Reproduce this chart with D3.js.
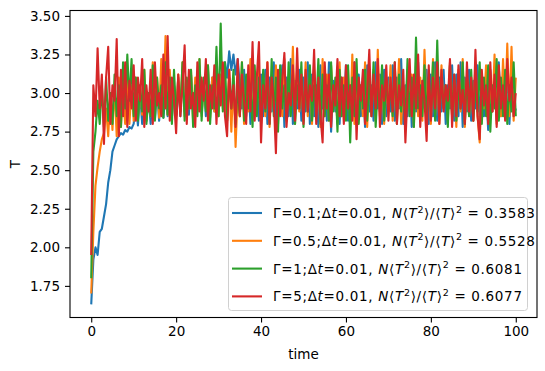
<!DOCTYPE html>
<html lang="en">
<head>
<meta charset="UTF-8">
<script src="https://d3js.org/d3.v7.min.js"></script>
<style>
  body { margin: 0; background: #fff; }
  svg { display: block; font-family: "DejaVu Sans", sans-serif; }
</style>
</head>
<body>
<div id="chart"></div>
<script>
// sampling step of the time axis (time units)
const timeStep = 0.5;

const gammas = ["0.1", "0.5", "1", "5"];
const ratios = ["0.3583", "0.5528", "0.6081", "0.6077"];
const colors = ["#1f77b4", "#ff7f0e", "#2ca02c", "#d62728"];

const xTicks = [0, 20, 40, 60, 80, 100];
const yTicks = [1.75, 2.00, 2.25, 2.50, 2.75, 3.00, 3.25, 3.50];

const tempG01 = [
  1.63, 1.92, 2.0, 1.95, 2.1, 2.12, 2.2, 2.28, 2.42, 2.5, 2.62, 2.66, 2.7, 2.72, 2.74, 2.73, 2.76, 2.75, 2.78, 2.77, 2.8,
  2.95, 2.79, 3.0, 2.8, 3.05, 2.82, 2.98, 2.8, 3.08, 2.83, 3.02, 2.82, 3.1, 2.84, 3.0, 2.85, 3.12, 2.84, 3.05, 2.86,
  3.1, 2.85, 3.15, 2.88, 3.05, 2.86, 3.12, 2.9, 3.02, 2.88, 3.18, 2.87, 3.08, 2.85, 3.15, 2.9, 3.1, 2.88, 3.2, 2.92,
  3.05, 2.95, 3.2, 3.1, 3.27, 3.15, 3.25, 3.12, 3.22, 3.05, 2.9, 3.15, 2.85, 3.1, 2.8, 3.18, 2.88, 3.05, 2.82, 3.12,
  2.85, 3.15, 2.8, 3.1, 2.88, 3.2, 2.82, 3.05, 2.9, 3.18, 2.78, 3.1, 2.85, 3.22, 2.8, 3.08, 2.9, 3.15, 2.82, 3.1,
  2.88, 3.2, 2.8, 3.12, 2.85, 3.05, 2.78, 3.18, 2.9, 3.1, 2.82, 3.2, 2.75, 3.08, 2.88, 3.15, 2.8, 3.1, 2.85, 3.18,
  2.82, 3.05, 2.9, 3.2, 2.8, 3.12, 2.85, 3.1, 2.78, 3.18, 2.88, 3.05, 2.82, 3.2, 2.9, 3.12, 2.8, 3.15, 2.85, 3.1,
  2.88, 3.18, 2.82, 3.1, 2.9, 3.22, 2.8, 3.05, 2.85, 3.15, 2.78, 3.1, 2.88, 3.2, 2.82, 3.08, 2.9, 3.15, 2.8, 3.12,
  2.85, 3.2, 2.82, 3.1, 2.88, 3.15, 2.8, 3.05, 2.9, 3.18, 2.82, 3.12, 2.85, 3.2, 2.78, 3.1, 2.88, 3.15, 2.82, 3.08,
  2.9, 3.18, 2.8, 3.12, 2.85, 3.05, 2.76, 3.15, 2.88, 3.1, 2.82, 3.2, 2.85, 3.08, 2.9, 3.15, 2.8, 3.1, 2.85, 2.9
];

const tempG05 = [
  1.70, 2.1, 2.4, 2.52, 2.62, 2.7, 2.74, 2.9, 2.72, 3.0, 2.76, 3.05, 2.72, 3.1, 2.78, 3.0, 2.8, 3.15, 2.8, 3.05, 2.82,
  3.1, 2.84, 3.05, 2.86, 3.15, 2.82, 3.0, 2.85, 3.2, 2.88, 3.1, 2.84, 3.22, 2.9, 3.37, 2.86, 3.15, 2.9, 3.05, 2.85,
  3.12, 2.88, 3.2, 2.85, 3.05, 2.9, 3.15, 2.82, 3.1, 2.88, 3.22, 2.85, 3.05, 2.9, 3.18, 2.84, 3.1, 2.88, 3.2, 2.85,
  3.12, 2.9, 3.05, 2.82, 3.15, 2.75, 3.1, 2.65, 3.0, 2.85, 3.2, 2.8, 3.1, 2.88, 3.22, 2.82, 3.05, 2.9, 3.15, 2.8,
  3.1, 2.85, 3.2, 2.78, 3.05, 2.9, 3.18, 2.8, 3.12, 2.85, 3.22, 2.82, 3.1, 2.9, 3.3, 2.8, 3.15, 2.88, 3.05, 2.82,
  3.2, 2.85, 3.1, 2.8, 3.15, 2.9, 3.05, 2.78, 3.22, 2.85, 3.12, 2.82, 3.18, 2.9, 3.05, 2.8, 3.2, 2.85, 3.1, 2.88,
  3.15, 2.82, 3.25, 2.8, 3.1, 2.9, 3.05, 2.85, 3.2, 2.78, 3.12, 2.88, 3.15, 2.82, 3.28, 2.85, 3.1, 2.8, 3.05, 2.9,
  3.18, 2.82, 3.1, 2.88, 3.22, 2.8, 3.05, 2.85, 3.15, 2.9, 3.12, 2.78, 3.2, 2.85, 3.1, 2.82, 3.28, 2.88, 3.05, 2.8,
  3.22, 2.85, 3.12, 2.8, 3.18, 2.9, 3.05, 2.82, 3.2, 2.85, 3.1, 2.78, 3.15, 2.88, 3.22, 2.78, 3.1, 2.85, 3.05, 2.82,
  3.2, 2.85, 2.68, 3.12, 2.9, 3.18, 2.82, 3.05, 2.88, 3.25, 2.8, 3.15, 2.85, 3.22, 2.9, 3.32, 2.85, 3.3, 2.82, 3.1
];

const tempG1 = [
  1.80, 2.62, 2.75, 2.95, 2.8, 3.05, 2.78, 3.1, 2.82, 3.0, 2.8, 3.12, 2.85, 3.05, 2.78, 3.2, 2.9, 3.25, 2.95, 3.22, 2.85,
  3.1, 2.82, 3.05, 2.88, 3.15, 2.8, 3.0, 2.85, 3.18, 2.82, 3.1, 2.9, 3.05, 2.84, 3.2, 2.86, 3.1, 2.8, 3.15, 2.85,
  3.05, 2.88, 3.2, 2.82, 3.1, 2.9, 3.15, 2.78, 3.05, 2.85, 3.22, 2.82, 3.1, 2.88, 3.18, 2.8, 3.05, 2.9, 3.3, 2.85,
  3.45, 2.88, 3.2, 2.82, 3.1, 2.9, 3.15, 2.8, 3.05, 2.85, 3.2, 2.82, 3.12, 2.9, 3.05, 2.78, 3.18, 2.85, 3.1, 2.82,
  3.15, 2.88, 3.05, 2.8, 3.22, 2.85, 3.1, 2.75, 3.18, 2.9, 3.05, 2.82, 3.2, 2.85, 3.12, 2.8, 3.05, 2.9, 3.2, 2.78,
  3.1, 2.88, 3.18, 2.82, 3.05, 2.9, 3.22, 2.8, 3.12, 2.85, 3.05, 2.82, 3.2, 2.88, 3.1, 2.75, 3.15, 2.85, 3.05, 2.82,
  3.18, 2.68, 3.1, 2.85, 3.22, 2.8, 3.05, 2.9, 3.15, 2.82, 3.1, 2.85, 3.2, 2.78, 3.05, 2.88, 3.18, 2.82, 3.1, 2.9,
  3.05, 2.85, 3.2, 2.8, 3.12, 2.88, 3.05, 2.82, 3.22, 2.85, 3.1, 2.78, 3.36, 2.9, 3.05, 2.85, 3.18, 2.82, 3.1, 2.88,
  3.2, 2.82, 3.34, 2.85, 3.1, 2.9, 3.05, 2.78, 3.18, 2.85, 3.12, 2.82, 3.05, 2.9, 3.2, 2.8, 3.1, 2.85, 3.15, 2.82,
  3.05, 2.88, 3.2, 2.8, 3.1, 2.85, 3.18, 2.75, 3.05, 2.9, 3.22, 2.82, 3.1, 2.85, 3.15, 2.8, 3.05, 2.88, 3.2, 2.85
];

const tempG5 = [
  1.95, 3.05, 2.85, 3.29, 2.9, 3.12, 2.67, 3.1, 3.30, 2.8, 3.05, 2.95, 3.35, 2.72, 3.15, 2.85, 3.2, 2.78, 3.08, 2.9, 3.18,
  2.82, 3.1, 2.95, 3.22, 2.78, 3.05, 2.88, 3.15, 2.8, 3.2, 2.92, 3.0, 2.85, 3.25, 2.9, 3.37, 2.82, 3.1, 2.95, 2.74,
  3.12, 2.85, 3.05, 3.31, 2.8, 3.15, 2.9, 3.0, 2.78, 3.2, 2.88, 3.1, 2.95, 3.22, 2.82, 3.05, 2.9, 3.18, 2.8, 3.12,
  2.92, 3.2, 2.85, 2.72, 3.15, 2.9, 3.05, 2.78, 3.22, 2.85, 3.12, 2.95, 2.8, 3.18, 2.88, 3.33, 2.82, 3.1, 3.33, 2.68,
  3.05, 2.9, 3.2, 2.8, 3.1, 2.95, 2.61, 3.15, 2.85, 3.08, 3.26, 2.78, 3.0, 2.92, 3.18, 2.82, 3.29, 2.9, 3.12, 2.8,
  3.15, 2.88, 3.05, 2.95, 3.28, 2.8, 3.1, 2.85, 2.68, 3.2, 2.9, 3.12, 2.78, 3.05, 2.92, 3.22, 2.85, 3.1, 2.8, 3.18,
  2.9, 3.05, 2.82, 3.2, 2.7, 3.1, 2.95, 3.15, 2.8, 3.0, 3.28, 2.85, 3.12, 2.9, 3.22, 2.78, 3.05, 2.95, 3.18, 2.82,
  3.1, 2.88, 3.2, 2.8, 3.05, 2.92, 3.15, 2.68, 3.0, 3.22, 2.85, 3.12, 2.9, 3.25, 2.78, 3.08, 2.95, 2.69, 3.18, 2.82,
  3.1, 2.9, 3.2, 2.8, 3.15, 2.88, 3.05, 2.95, 3.22, 2.78, 3.12, 2.85, 3.18, 2.9, 3.02, 2.8, 3.2, 2.88, 3.1, 2.82,
  3.28, 2.85, 2.7, 3.15, 2.92, 3.05, 2.8, 3.2, 2.88, 3.12, 2.78, 3.18, 2.9, 3.05, 2.82, 3.22, 2.95, 3.1, 2.85, 3.0
];

const allSeries = [tempG01, tempG05, tempG1, tempG5];

const width = 545, height = 371;
const margin = {top: 10.5, right: 8, bottom: 53.5, left: 70};
const plotW = width - margin.left - margin.right;
const plotH = height - margin.top - margin.bottom;

const svg = d3.select("#chart").append("svg")
  .attr("width", width)
  .attr("height", height);

const x = d3.scaleLinear().domain([-5, 105]).range([margin.left, margin.left + plotW]);
const y = d3.scaleLinear().domain([1.545, 3.535]).range([margin.top + plotH, margin.top]);

const line = d3.line()
  .x((d, i) => x(i * timeStep))
  .y(d => y(d));

svg.append("g")
  .selectAll("path")
  .data(allSeries)
  .join("path")
  .attr("fill", "none")
  .attr("stroke", (d, i) => colors[i])
  .attr("stroke-width", 2.1)
  .attr("stroke-linejoin", "round")
  .attr("d", line);

// axes
svg.append("g")
  .attr("transform", `translate(0,${margin.top + plotH})`)
  .call(d3.axisBottom(x).tickValues(xTicks).tickSizeOuter(0).tickSize(5).tickPadding(4))
  .call(g => g.select(".domain").remove())
  .call(g => g.selectAll("text").attr("font-size", 13.5).attr("fill", "#000").attr("font-family", "DejaVu Sans"))
  .call(g => g.selectAll("line").attr("stroke", "#000").attr("stroke-width", 1.1));

svg.append("g")
  .attr("transform", `translate(${margin.left},0)`)
  .call(d3.axisLeft(y).tickValues(yTicks).tickFormat(d3.format(".2f")).tickSizeOuter(0).tickSize(5).tickPadding(5))
  .call(g => g.select(".domain").remove())
  .call(g => g.selectAll("text").attr("font-size", 13.5).attr("fill", "#000").attr("font-family", "DejaVu Sans"))
  .call(g => g.selectAll("line").attr("stroke", "#000").attr("stroke-width", 1.1));

svg.append("rect")
  .attr("x", margin.left)
  .attr("y", margin.top)
  .attr("width", plotW)
  .attr("height", plotH)
  .attr("fill", "none")
  .attr("stroke", "#000")
  .attr("stroke-width", 1.1);

svg.append("text")
  .attr("x", margin.left + plotW / 2)
  .attr("y", 359)
  .attr("text-anchor", "middle")
  .attr("font-size", 13.5)
  .text("time");

svg.append("text")
  .attr("transform", `translate(20,${margin.top + plotH / 2}) rotate(-90)`)
  .attr("text-anchor", "middle")
  .attr("font-size", 13.5)
  .text("T");

// legend
const lg = svg.append("g");
lg.append("rect")
  .attr("x", 228.5).attr("y", 197.5)
  .attr("width", 299).attr("height", 113)
  .attr("rx", 3)
  .attr("fill", "#fff").attr("fill-opacity", 0.8)
  .attr("stroke", "#d0d0d0").attr("stroke-width", 1);

gammas.forEach((g, i) => {
  const cy = 213 + i * 27.8;
  lg.append("line")
    .attr("x1", 232).attr("x2", 262)
    .attr("y1", cy).attr("y2", cy)
    .attr("stroke", colors[i]).attr("stroke-width", 2.1);
  const parts = [
    ["Γ=" + g + ";Δ", ""], ["t", "i"], ["=0.01, ", ""], ["N", "i"], ["⟨", ""], ["T", "i"],
    ["2", "sup"], ["⟩/⟨", ""], ["T", "i"], ["⟩", ""], ["2", "sup"], [" = " + ratios[i], ""]
  ];
  const t = lg.append("text")
    .attr("x", 273).attr("y", cy + 5)
    .attr("font-size", 13.5);
  let shifted = false;
  parts.forEach(([s, kind]) => {
    const ts = t.append("tspan").text(s);
    if (kind === "i") ts.attr("font-style", "italic");
    if (kind === "sup") {
      ts.attr("font-size", 9.5).attr("dy", -5.5);
      shifted = true;
    } else if (shifted) {
      ts.attr("dy", 5.5);
      shifted = false;
    }
  });
  // mathtext sets the bracket part wider than plain text
  const natural = t.node().getComputedTextLength();
  t.attr("textLength", natural + 21).attr("lengthAdjust", "spacing");
});
</script>
</body>
</html>
